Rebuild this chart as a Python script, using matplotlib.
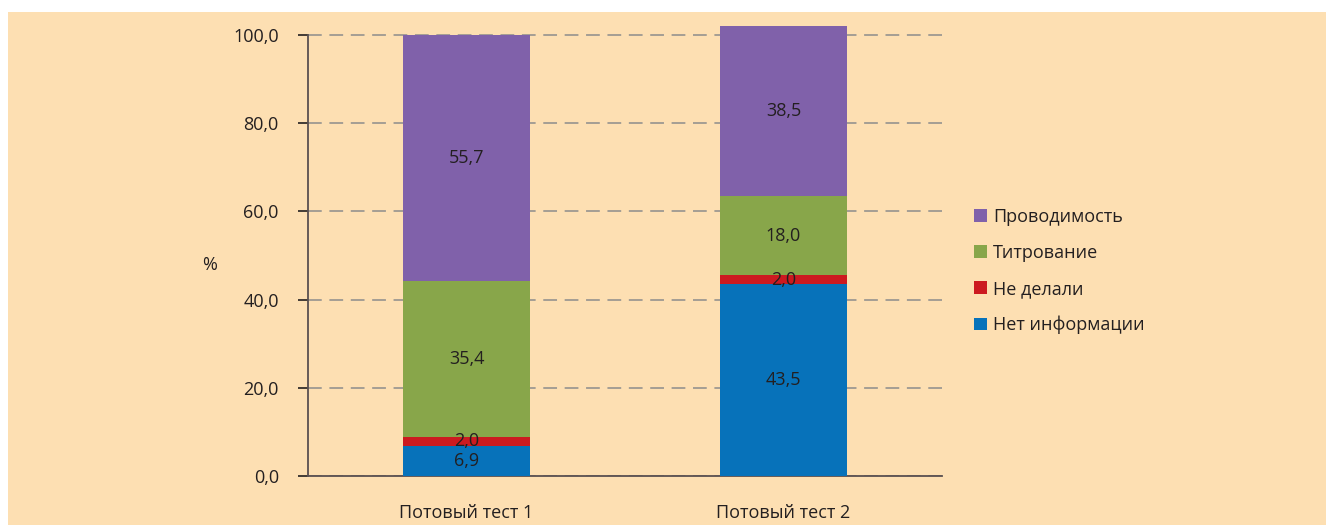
import matplotlib.pyplot as plt
from matplotlib.patches import Rectangle
import numpy as np

categories = ['Потовый тест 1', 'Потовый тест 2']
series = ['Нет информации', 'Не делали', 'Титрование', 'Проводимость']
no_info = [6.9, 43.5]
not_done = [2.0, 2.0]
titration = [35.4, 18.0]
conductivity = [55.7, 38.5]
yticks = [0, 20, 40, 60, 80, 100]

colors = ['#0772BA', '#CC1A20', '#88A64A', '#8061AA']
bg = '#FDDFB2'
txt = '#231F20'

plt.rcParams['font.family'] = ['Open Sans', 'DejaVu Sans']

fig = plt.figure(figsize=(13.26, 5.25), dpi=100)
fig.patch.set_facecolor('white')
fig.patches.append(Rectangle((8 / 1326, 0), 1, 1 - 12 / 525, transform=fig.transFigure,
                             facecolor=bg, edgecolor='none', zorder=-10))

ax = fig.add_axes([308 / 1326, (525 - 476) / 525, 634 / 1326, (476 - 26) / 525])
ax.set_facecolor('none')

x = np.arange(len(categories))
bottom = np.zeros(len(categories))
handles = []
for name, vals, c in zip(series, [no_info, not_done, titration, conductivity], colors):
    vals = np.array(vals)
    b = ax.bar(x, vals, width=0.4, bottom=bottom, color=c, zorder=3, label=name)
    handles.append(b)
    for xi, v, bt in zip(x, vals, bottom):
        ax.text(xi, bt + v / 2, f'{v:.1f}'.replace('.', ','), ha='center', va='center',
                fontsize=13, color=txt, zorder=4)
    bottom += vals

ax.set_xlim(-0.5, 1.5)
ax.set_ylim(0, 102)
ax.set_yticks(yticks)
ax.set_yticklabels([f'{t:.1f}'.replace('.', ',') for t in yticks], fontsize=13, color=txt)
ax.set_xticks(x)
ax.set_xticklabels(categories, fontsize=13, color=txt)
ax.tick_params(axis='x', length=0, pad=20)
ax.tick_params(axis='y', length=7, width=1.2, color=txt, pad=14)

ax.yaxis.grid(True, linestyle=(0, (9, 5)), color='#8C8C8C', linewidth=1.1, zorder=0)
ax.set_axisbelow(True)

for s in ['top', 'right']:
    ax.spines[s].set_visible(False)
for s in ['left', 'bottom']:
    ax.spines[s].set_color('#5A5050')
    ax.spines[s].set_linewidth(1.3)
ax.spines['left'].set_bounds(0, 100)

ax.set_ylabel('%', rotation=0, fontsize=13, color=txt)
ax.yaxis.set_label_coords(-0.155, 0.45)

leg = fig.legend(handles[::-1], series[::-1], loc='center left',
                 bbox_to_anchor=(958 / 1326, (525 - 271) / 525), frameon=False,
                 fontsize=13, handlelength=0.7, handleheight=0.7, handletextpad=0.35,
                 labelspacing=1.0)
for t in leg.get_texts():
    t.set_color(txt)

fig.savefig('out.png', dpi=100, facecolor=fig.get_facecolor())
